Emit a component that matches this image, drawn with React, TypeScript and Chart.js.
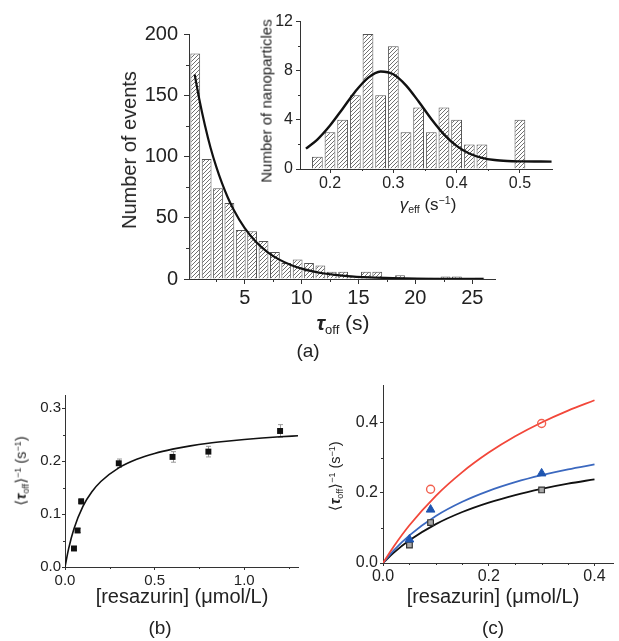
import React, { useEffect, useRef } from "react";
import { Chart, registerables } from "chart.js";
Chart.register(...registerables);

const FONT = "'Liberation Sans', Arial, Helvetica, sans-serif";

// ---------- (a) main histogram: dwell times ----------
const tauBinCenters = [0.65, 1.65, 2.65, 3.65, 4.65, 5.65, 6.65, 7.65, 8.65, 9.65, 10.65, 11.65, 12.65, 13.65, 14.65, 15.65, 16.65, 17.65, 18.65, 19.65, 20.65, 21.65, 22.65, 23.65, 24.65, 25.65];
const tauCounts = [184, 98, 74, 62, 40, 39, 31, 22, 13, 16, 13, 11, 6, 6, 2, 6, 6, 1, 3, 1, 0, 1, 2, 2, 0, 1];
const tauFitX = [0.6, 1, 1.5, 2, 2.5, 3, 3.5, 4, 5, 6, 7, 8, 9, 10, 11, 12, 14, 16, 18, 20, 22, 24, 26];
const tauFitY = [167, 147, 125.6, 107, 91.5, 78.2, 66.7, 56.9, 41.5, 30.2, 22, 16, 11.7, 8.5, 6.2, 4.5, 2.4, 1.3, 0.7, 0.36, 0.2, 0.1, 0.05];
const tauTicks = [5, 10, 15, 20, 25];
const tauMinor = [2.5, 7.5, 12.5, 17.5, 22.5];
const eventTicks = [0, 50, 100, 150, 200];
const eventMinor = [25, 75, 125, 175];

// ---------- (a) inset: gamma_eff distribution ----------
const gammaBinCenters = [0.18, 0.2, 0.22, 0.24, 0.26, 0.28, 0.3, 0.32, 0.34, 0.36, 0.38, 0.4, 0.42, 0.44, 0.46, 0.48, 0.5];
const gammaCounts = [1, 3, 4, 6, 11, 6, 10, 3, 5, 3, 5, 4, 2, 2, 0, 0, 4];
const gammaFitX = [0.162, 0.18, 0.2, 0.22, 0.24, 0.26, 0.28, 0.3, 0.32, 0.34, 0.36, 0.38, 0.4, 0.42, 0.44, 0.46, 0.48, 0.5, 0.55];
const gammaFitY = [1.66, 2.4, 3.54, 4.91, 6.31, 7.42, 7.94, 7.71, 6.81, 5.49, 4.07, 2.82, 1.88, 1.26, 0.91, 0.73, 0.65, 0.62, 0.6];
const gammaTicks = [0.2, 0.3, 0.4, 0.5];
const gammaMinor = [0.25, 0.35, 0.45];
const npTicks = [0, 4, 8, 12];
const npMinor = [2, 6, 10];

// ---------- (b) ----------
const concB = [0.05, 0.07, 0.09, 0.3, 0.6, 0.8, 1.2];
const rateB = [0.035, 0.069, 0.124, 0.196, 0.208, 0.218, 0.257];
const errB = [0.004, 0.004, 0.005, 0.008, 0.01, 0.01, 0.012];
const fitBX = [0, 0.02, 0.05, 0.1, 0.15, 0.2, 0.3, 0.4, 0.5, 0.6, 0.7, 0.8, 0.9, 1.0, 1.1, 1.2, 1.3];
const fitBY = [0, 0.0343, 0.0723, 0.1145, 0.1421, 0.1616, 0.1873, 0.2035, 0.2146, 0.2227, 0.2289, 0.2338, 0.2377, 0.241, 0.2437, 0.246, 0.248];
const bTicksX = [0, 0.5, 1.0];
const bMinorX = [0.25, 0.75, 1.25];
const bTicksY = [0, 0.1, 0.2, 0.3];
const bMinorY = [0.05, 0.15, 0.25];

// ---------- (c) ----------
const concC = [0.05, 0.09, 0.3];
const concRed = [0.09, 0.3];
const rateRed = [0.21, 0.397];
const rateBlue = [0.067, 0.152, 0.255];
const rateBlack = [0.051, 0.115, 0.208];
const fitCX = [0, 0.02, 0.05, 0.1, 0.15, 0.2, 0.25, 0.3, 0.35, 0.4];
const fitRed = [0, 0.0463, 0.1073, 0.1913, 0.2588, 0.3143, 0.3607, 0.4, 0.4338, 0.4632];
const fitBlue = [0, 0.0353, 0.0787, 0.1337, 0.1742, 0.2053, 0.23, 0.25, 0.2666, 0.2805];
const fitBlack = [0, 0.0287, 0.0645, 0.1106, 0.1451, 0.172, 0.1935, 0.2111, 0.2258, 0.2382];
const cTicksX = [0, 0.2, 0.4];
const cMinorX = [0.05, 0.1, 0.15, 0.25, 0.3, 0.35];
const cTicksY = [0, 0.2, 0.4];
const cMinorY = [0.1, 0.3];

type Box = { L: number; T: number; R: number; B: number; yW: number; xH: number; padT: number; padR: number };

const mainBox: Box = { L: 189, T: 28, R: 495, B: 279, yW: 60, xH: 40, padT: 12, padR: 12 };
const insetBox: Box = { L: 300, T: 19, R: 552, B: 169, yW: 30, xH: 25, padT: 10, padR: 10 };
const bBox: Box = { L: 65, T: 395, R: 298, B: 567, yW: 42, xH: 25, padT: 10, padR: 10 };
const cBox: Box = { L: 383, T: 384, R: 618, B: 563, yW: 42, xH: 25, padT: 10, padR: 1 };

const pts = (xs: number[], ys: number[]) => xs.map((x, i) => ({ x, y: ys[i] }));

function axis(isY: boolean, box: Box, min: number, max: number, ticks: number[], size: number, tickLen: number, pad: number, fmt: (v: number) => string) {
  return {
    type: "linear",
    min,
    max,
    offset: false,
    grid: { display: true, drawOnChartArea: false, drawTicks: true, tickLength: tickLen, color: "#333", offset: false, lineWidth: 1 },
    border: { display: true, color: "#333", width: 1 },
    ticks: {
      font: { family: FONT, size },
      color: "#222",
      padding: pad,
      autoSkip: false,
      maxRotation: 0,
      minRotation: 0,
      callback: (v: number) => fmt(Number(v)),
    },
    afterBuildTicks: (s: any) => {
      s.ticks = ticks.map((v) => ({ value: v }));
    },
    afterFit: (s: any) => {
      if (isY) s.width = box.yW;
      else s.height = box.xH;
    },
  };
}

function minorPlugin(xs: number[], ys: number[], len: number) {
  return {
    id: "minorTicks",
    afterDraw(chart: any) {
      const { ctx, chartArea, scales } = chart;
      ctx.save();
      ctx.strokeStyle = "#333";
      ctx.lineWidth = 1;
      ctx.beginPath();
      xs.forEach((v) => {
        const px = Math.round(scales.x.getPixelForValue(v)) + 0.5;
        ctx.moveTo(px, chartArea.bottom);
        ctx.lineTo(px, chartArea.bottom + len);
      });
      ys.forEach((v) => {
        const py = Math.round(scales.y.getPixelForValue(v)) + 0.5;
        ctx.moveTo(chartArea.left, py);
        ctx.lineTo(chartArea.left - len, py);
      });
      ctx.stroke();
      ctx.restore();
    },
  };
}

const errPlugin = {
  id: "errBars",
  beforeDatasetsDraw(chart: any) {
    const { ctx, scales } = chart;
    ctx.save();
    ctx.strokeStyle = "#9a9a9a";
    ctx.lineWidth = 1;
    ctx.beginPath();
    concB.forEach((c, i) => {
      const x = Math.round(scales.x.getPixelForValue(c)) + 0.5;
      const y1 = scales.y.getPixelForValue(rateB[i] - errB[i]);
      const y2 = scales.y.getPixelForValue(rateB[i] + errB[i]);
      ctx.moveTo(x, y1);
      ctx.lineTo(x, y2);
      ctx.moveTo(x - 2.5, y1);
      ctx.lineTo(x + 2.5, y1);
      ctx.moveTo(x - 2.5, y2);
      ctx.lineTo(x + 2.5, y2);
    });
    ctx.stroke();
    ctx.restore();
  },
};

function hatch(): CanvasPattern | string {
  const c = document.createElement("canvas");
  c.width = 4;
  c.height = 4;
  const g = c.getContext("2d");
  if (!g) return "#ddd";
  g.fillStyle = "#fff";
  g.fillRect(0, 0, 4, 4);
  g.strokeStyle = "#707070";
  g.lineWidth = 1;
  g.beginPath();
  g.moveTo(0, 4);
  g.lineTo(4, 0);
  g.moveTo(-1, 1);
  g.lineTo(1, -1);
  g.moveTo(3, 5);
  g.lineTo(5, 3);
  g.stroke();
  return g.createPattern(c, "repeat") || "#ddd";
}

const baseOpts = (box: Box) => ({
  responsive: false,
  animation: false,
  events: [],
  layout: { padding: { top: box.padT, right: box.padR, left: 0, bottom: 0 } },
  plugins: { legend: { display: false }, tooltip: { enabled: false }, title: { display: false } },
});

function makeMain(box: Box) {
  return {
    type: "bar",
    data: {
      datasets: [
        {
          type: "line",
          data: pts(tauFitX, tauFitY),
          borderColor: "#111",
          borderWidth: 2.2,
          pointRadius: 0,
          cubicInterpolationMode: "monotone",
          order: 0,
        },
        {
          type: "bar",
          data: pts(tauBinCenters, tauCounts),
          backgroundColor: hatch(),
          borderColor: "#555",
          borderWidth: 1,
          barPercentage: 0.86,
          categoryPercentage: 1,
          order: 1,
        },
      ],
    },
    options: {
      ...baseOpts(box),
      scales: {
        x: axis(false, box, 0.1, 27, tauTicks, 20, 5, 2, (v) => String(v)),
        y: axis(true, box, 0, 200, eventTicks, 20, 5, 6, (v) => String(v)),
      },
    },
    plugins: [minorPlugin(tauMinor, eventMinor, 3)],
  };
}

function makeInset(box: Box) {
  return {
    type: "bar",
    data: {
      datasets: [
        {
          type: "line",
          data: pts(gammaFitX, gammaFitY),
          borderColor: "#111",
          borderWidth: 2.4,
          pointRadius: 0,
          cubicInterpolationMode: "monotone",
          order: 0,
        },
        {
          type: "bar",
          data: pts(gammaBinCenters, gammaCounts),
          backgroundColor: hatch(),
          borderColor: "#555",
          borderWidth: 1,
          barPercentage: 0.85,
          categoryPercentage: 1,
          order: 1,
        },
      ],
    },
    options: {
      ...baseOpts(box),
      scales: {
        x: axis(false, box, 0.1526, 0.5507, gammaTicks, 16, 4, 1, (v) => v.toFixed(1)),
        y: axis(true, box, 0, 12, npTicks, 16, 4, 3, (v) => String(v)),
      },
    },
    plugins: [minorPlugin(gammaMinor, npMinor, 2)],
  };
}

function makeB(box: Box) {
  return {
    type: "scatter",
    data: {
      datasets: [
        {
          data: pts(concB, rateB),
          pointStyle: "rect",
          pointRadius: 4.2,
          backgroundColor: "#111",
          borderColor: "#111",
          borderWidth: 0,
          order: 0,
        },
        {
          data: pts(fitBX, fitBY),
          showLine: true,
          borderColor: "#111",
          borderWidth: 1.6,
          pointRadius: 0,
          cubicInterpolationMode: "monotone",
          order: 1,
        },
      ],
    },
    options: {
      ...baseOpts(box),
      scales: {
        x: axis(false, box, 0, 1.3, bTicksX, 15, 3, 2, (v) => v.toFixed(1)),
        y: axis(true, box, 0, 0.325, bTicksY, 15, 3, 1, (v) => v.toFixed(1)),
      },
    },
    plugins: [errPlugin, minorPlugin(bMinorX, bMinorY, 2)],
  };
}

function makeC(box: Box) {
  const curve = (ys: number[], color: string) => ({
    data: pts(fitCX, ys),
    showLine: true,
    borderColor: color,
    borderWidth: 1.8,
    pointRadius: 0,
    cubicInterpolationMode: "monotone",
    order: 1,
  });
  return {
    type: "scatter",
    data: {
      datasets: [
        curve(fitRed, "#f2473a"),
        curve(fitBlue, "#3b68bf"),
        curve(fitBlack, "#111"),
        {
          data: pts(concRed, rateRed),
          pointStyle: "circle",
          pointRadius: 4,
          backgroundColor: "rgba(255,255,255,0)",
          borderColor: "#f2604f",
          borderWidth: 1.4,
          order: 0,
        },
        {
          data: pts(concC, rateBlue),
          pointStyle: "triangle",
          pointRadius: 5,
          backgroundColor: "#1f55b0",
          borderColor: "#1f55b0",
          borderWidth: 1,
          order: 0,
        },
        {
          data: pts(concC, rateBlack),
          pointStyle: "rect",
          pointRadius: 4,
          backgroundColor: "#a8a8a8",
          borderColor: "#333",
          borderWidth: 1.2,
          order: 0,
        },
      ],
    },
    options: {
      ...baseOpts(box),
      scales: {
        x: axis(false, box, 0, 0.435, cTicksX, 16, 3, 1, (v) => v.toFixed(1)),
        y: axis(true, box, 0, 0.505, cTicksY, 16, 3, 2, (v) => v.toFixed(1)),
      },
    },
    plugins: [minorPlugin(cMinorX, cMinorY, 2)],
  };
}

function ChartCanvas({ box, make }: { box: Box; make: (b: Box) => any }) {
  const ref = useRef<HTMLCanvasElement>(null);
  const w = box.R - box.L + box.yW + box.padR;
  const h = box.B - box.T + box.padT + box.xH;
  useEffect(() => {
    if (!ref.current) return;
    const chart = new Chart(ref.current, make(box));
    return () => chart.destroy();
  }, []);
  return (
    <canvas
      ref={ref}
      width={w}
      height={h}
      style={{ position: "absolute", left: box.L - box.yW, top: box.T - box.padT, width: w, height: h }}
    />
  );
}

function Txt({ x, y, size, rot, children }: { x: number; y: number; size: number; rot?: boolean; children: any }) {
  return (
    <div
      style={{
        position: "absolute",
        left: x,
        top: y,
        transform: `translate(-50%,-50%)${rot ? " rotate(-90deg)" : ""}`,
        fontSize: size,
        lineHeight: 1,
        whiteSpace: "nowrap",
        color: "#222",
      }}
    >
      {children}
    </div>
  );
}

const subS = { fontSize: "0.62em", verticalAlign: "-0.35em", lineHeight: 0 } as const;
const supS = { fontSize: "0.62em", verticalAlign: "0.55em", lineHeight: 0 } as const;

function RateTitle() {
  return (
    <span>
      ⟨<b><i>τ</i></b><span style={subS}>off</span>⟩<span style={supS}>−1</span> (s<span style={supS}>−1</span>)
    </span>
  );
}

export default function App() {
  return (
    <div
      style={{
        position: "absolute",
        left: 0,
        top: 0,
        width: 619,
        height: 641,
        overflow: "hidden",
        background: "#fff",
        fontFamily: FONT,
      }}
    >
      <ChartCanvas box={mainBox} make={makeMain} />
      <ChartCanvas box={insetBox} make={makeInset} />
      <ChartCanvas box={bBox} make={makeB} />
      <ChartCanvas box={cBox} make={makeC} />

      <Txt x={129} y={150} size={20} rot>Number of events</Txt>
      <Txt x={343} y={322} size={21}>
        <b><i>τ</i></b><span style={subS}>off</span> (s)
      </Txt>
      <Txt x={308} y={350} size={19}>(a)</Txt>

      <Txt x={266} y={101} size={15} rot>Number of nanoparticles</Txt>
      <Txt x={428} y={204} size={17}>
        <i>γ</i><span style={subS}>eff</span> (s<span style={supS}>−1</span>)
      </Txt>

      <Txt x={21} y={471} size={14.5} rot><RateTitle /></Txt>
      <Txt x={182} y={596} size={20}>[resazurin] (μmol/L)</Txt>
      <Txt x={160} y={627} size={19}>(b)</Txt>

      <Txt x={335} y={476} size={14.5} rot><RateTitle /></Txt>
      <Txt x={493} y={596} size={20}>[resazurin] (μmol/L)</Txt>
      <Txt x={493} y={627} size={19}>(c)</Txt>
    </div>
  );
}
